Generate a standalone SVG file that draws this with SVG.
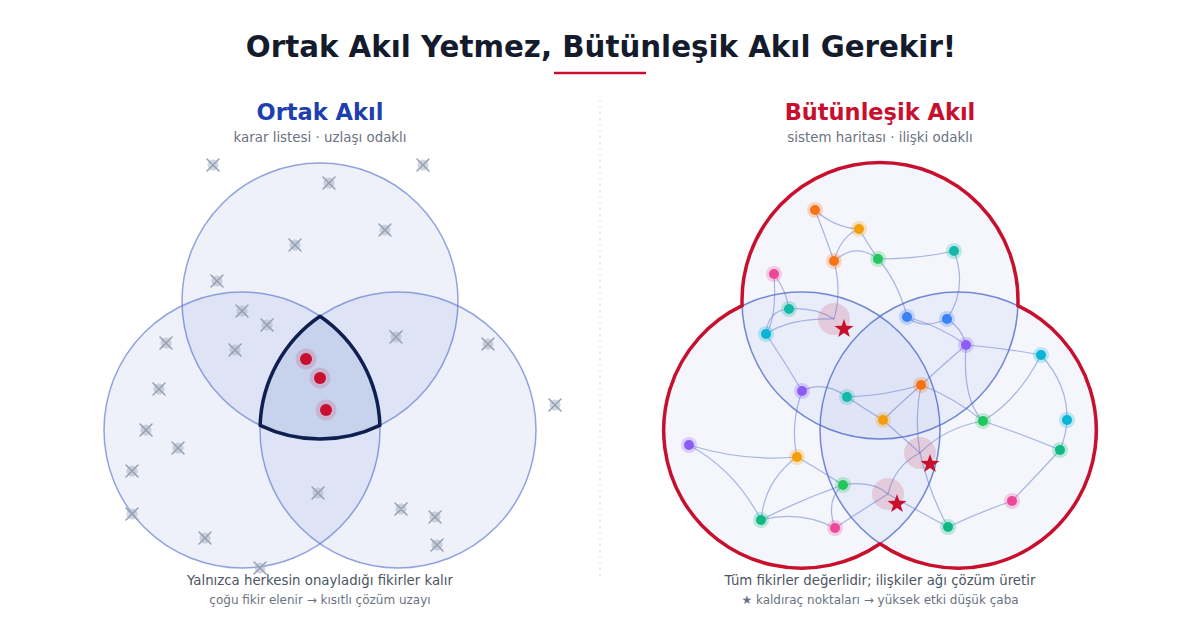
<svg xmlns="http://www.w3.org/2000/svg" width="1200" height="627" viewBox="0 0 1200 627">
<style>
.title{font-family:"DejaVu Sans",sans-serif;font-weight:bold;font-size:29.3px;fill:#141b2d;text-anchor:middle}
.h{font-family:"DejaVu Sans",sans-serif;font-weight:bold;font-size:22.5px;text-anchor:middle}
.sub{font-family:"DejaVu Sans",sans-serif;font-size:13.4px;fill:#6b7280;text-anchor:middle}
.cap1{font-family:"DejaVu Sans",sans-serif;font-size:13.3px;fill:#4b5563;text-anchor:middle}
.cap2{font-family:"DejaVu Sans",sans-serif;font-size:12px;fill:#6b7280;text-anchor:middle}
.vc{fill:#3c5ac8;fill-opacity:0.085;stroke:#5b74cc;stroke-opacity:0.65;stroke-width:1.5}
.vc2{fill:#3c5ac8;fill-opacity:0.055;stroke:#5b74cc;stroke-opacity:0.85;stroke-width:1.5}
.edge{fill:none;stroke:#5b74cc;stroke-opacity:0.5;stroke-width:1.2}
.halo{fill:#c8102e;fill-opacity:0.15}
</style>
<defs>
<g id="xmark">
<circle r="5.5" fill="#aab2c2" fill-opacity="0.55"/>
<path d="M-6,-6 L6,6 M6,-6 L-6,6" stroke="#97a0b3" stroke-width="1.5" stroke-linecap="round"/>
</g>
<path id="star" d="M0,-10 L2.35,-3.24 L9.51,-3.09 L3.8,1.24 L5.88,8.09 L0,4 L-5.88,8.09 L-3.8,1.24 L-9.51,-3.09 L-2.35,-3.24 Z" fill="#c8102e"/>
</defs>

<g id="header">
<text class="title" x="601" y="57">Ortak Akıl Yetmez, Bütünleşik Akıl Gerekir!</text>
<line x1="554" y1="73" x2="646" y2="73" stroke="#c8102e" stroke-width="2.5"/>
</g>
<line id="divider" x1="600" y1="100" x2="600" y2="576" stroke="#e3e6ec" stroke-width="1.5" stroke-dasharray="2 4"/>

<!-- LEFT -->
<g id="left-title">
<text class="h" x="320" y="120" fill="#1e3fae">Ortak Akıl</text>
<text class="sub" x="320" y="142">karar listesi · uzlaşı odaklı</text>
</g>
<g id="left-venn">
<circle class="vc" cx="320" cy="301" r="138"/>
<circle class="vc" cx="242" cy="430" r="138"/>
<circle class="vc" cx="398" cy="430" r="138"/>
</g>
<g id="left-consensus">
<path d="M320,316.2 A138,138 0 0 1 379.9,425.3 A138,138 0 0 1 260.1,425.3 A138,138 0 0 1 320,316.2 Z" fill="#3c5ac8" fill-opacity="0.05" stroke="#0f1f4f" stroke-width="3.5" stroke-linejoin="round"/>
</g>
<g id="left-crosses">
<use id="x1" href="#xmark" x="213" y="165"/>
<use id="x2" href="#xmark" x="423" y="165"/>
<use id="x3" href="#xmark" x="329" y="183"/>
<use id="x4" href="#xmark" x="385" y="230"/>
<use id="x5" href="#xmark" x="295" y="245"/>
<use id="x6" href="#xmark" x="217" y="281"/>
<use id="x7" href="#xmark" x="242" y="311"/>
<use id="x8" href="#xmark" x="267" y="325"/>
<use id="x9" href="#xmark" x="166" y="343"/>
<use id="x10" href="#xmark" x="235" y="350"/>
<use id="x11" href="#xmark" x="396" y="337"/>
<use id="x12" href="#xmark" x="488" y="344"/>
<use id="x13" href="#xmark" x="159" y="389"/>
<use id="x14" href="#xmark" x="555" y="405"/>
<use id="x15" href="#xmark" x="146" y="430"/>
<use id="x16" href="#xmark" x="178" y="448"/>
<use id="x17" href="#xmark" x="132" y="471"/>
<use id="x18" href="#xmark" x="318" y="493"/>
<use id="x19" href="#xmark" x="132" y="514"/>
<use id="x20" href="#xmark" x="401" y="509"/>
<use id="x21" href="#xmark" x="435" y="517"/>
<use id="x22" href="#xmark" x="205" y="538"/>
<use id="x23" href="#xmark" x="437" y="545"/>
<use id="x24" href="#xmark" x="260" y="568"/>
</g>
<g id="left-accepted">
<g id="a1"><circle cx="306" cy="359" r="10.5" class="halo" fill-opacity="0.2"/><circle cx="306" cy="359" r="6" fill="#c8102e"/></g>
<g id="a2"><circle cx="320" cy="378" r="10.5" class="halo" fill-opacity="0.2"/><circle cx="320" cy="378" r="6" fill="#c8102e"/></g>
<g id="a3"><circle cx="326" cy="410" r="10.5" class="halo" fill-opacity="0.2"/><circle cx="326" cy="410" r="6" fill="#c8102e"/></g>
</g>
<g id="left-caption">
<text class="cap1" x="320" y="585">Yalnızca herkesin onayladığı fikirler kalır</text>
<text class="cap2" x="320" y="604">çoğu fikir elenir → kısıtlı çözüm uzayı</text>
</g>

<!-- RIGHT -->
<g id="right-title">
<text class="h" x="880" y="120" fill="#c8102e">Bütünleşik Akıl</text>
<text class="sub" x="880" y="142">sistem haritası · ilişki odaklı</text>
</g>
<g id="right-venn">
<circle class="vc2" cx="880" cy="301" r="138"/>
<circle class="vc2" cx="802" cy="430" r="138"/>
<circle class="vc2" cx="958" cy="430" r="138"/>
</g>

<g id="leverage-halos">
<circle class="halo" cx="834" cy="319" r="16"/>
<circle class="halo" cx="920" cy="453" r="16"/>
<circle class="halo" cx="888" cy="494" r="16"/>
</g>

<g id="connectors">
<path class="edge" d="M815,210 Q835,228 859,229"/>
<path class="edge" d="M815,210 Q826,238 834,261"/>
<path class="edge" d="M859,229 Q841,236 834,261"/>
<path class="edge" d="M859,229 Q868,244 878,259"/>
<path class="edge" d="M834,261 Q856,242 878,259"/>
<path class="edge" d="M878,259 Q918,259 954,251"/>
<path class="edge" d="M954,251 Q968,288 947,319"/>
<path class="edge" d="M878,259 Q897,280 907,316"/>
<path class="edge" d="M834,261 Q842,292 834,319"/>
<path class="edge" d="M774,274 Q786,290 789,309"/>
<path class="edge" d="M774,274 Q777,318 766,334"/>
<path class="edge" d="M789,309 Q768,310 766,334"/>
<path class="edge" d="M789,309 Q815,307 834,319"/>
<path class="edge" d="M766,334 Q790,318 834,319"/>
<path class="edge" d="M907,317 Q922,330 947,319"/>
<path class="edge" d="M907,317 Q940,326 966,345"/>
<path class="edge" d="M947,319 Q962,328 966,345"/>
<path class="edge" d="M966,345 Q1004,348 1041,355"/>
<path class="edge" d="M966,345 Q944,364 921,385"/>
<path class="edge" d="M966,345 Q962,400 983,421"/>
<path class="edge" d="M1041,355 Q1018,400 983,421"/>
<path class="edge" d="M1041,355 Q1068,385 1067,420"/>
<path class="edge" d="M766,334 Q785,362 802,391"/>
<path class="edge" d="M802,391 Q824,380 847,397"/>
<path class="edge" d="M847,397 Q884,396 921,385"/>
<path class="edge" d="M847,397 Q865,409 883,420"/>
<path class="edge" d="M883,420 Q902,402 921,385"/>
<path class="edge" d="M921,385 Q955,398 983,421"/>
<path class="edge" d="M921,385 Q914,420 920,453"/>
<path class="edge" d="M883,420 Q902,437 920,453"/>
<path class="edge" d="M983,421 Q944,428 920,453"/>
<path class="edge" d="M983,421 Q1024,435 1060,450"/>
<path class="edge" d="M802,391 Q790,425 797,457"/>
<path class="edge" d="M689,445 Q745,462 797,457"/>
<path class="edge" d="M689,445 Q735,470 761,520"/>
<path class="edge" d="M797,457 Q765,480 761,520"/>
<path class="edge" d="M797,457 Q820,470 843,485"/>
<path class="edge" d="M843,485 Q800,500 761,520"/>
<path class="edge" d="M843,485 Q825,500 835,528"/>
<path class="edge" d="M761,520 Q800,510 835,528"/>
<path class="edge" d="M843,485 Q872,480 888,494"/>
<path class="edge" d="M835,528 Q862,510 888,494"/>
<path class="edge" d="M888,494 Q895,465 920,453"/>
<path class="edge" d="M888,494 Q920,512 948,527"/>
<path class="edge" d="M920,453 Q930,495 948,527"/>
<path class="edge" d="M948,527 Q980,512 1012,501"/>
<path class="edge" d="M1012,501 Q1036,476 1060,450"/>
<path class="edge" d="M1060,450 Q1066,436 1067,420"/>
</g>

<g id="right-outline">
<path d="M742.1,305.7 A138,138 0 1 1 1017.9,305.7 A138,138 0 1 1 880,543.8 A138,138 0 1 1 742.1,305.7 Z" fill="none" stroke="#c8102e" stroke-width="3.5" stroke-linejoin="miter"/>
</g>

<g id="nodes">
<g id="n1"><circle cx="815" cy="210" r="8" fill="#f97316" fill-opacity="0.25"/><circle cx="815" cy="210" r="5" fill="#f97316"/></g>
<g id="n2"><circle cx="859" cy="229" r="8" fill="#f59e0b" fill-opacity="0.25"/><circle cx="859" cy="229" r="5" fill="#f59e0b"/></g>
<g id="n3"><circle cx="834" cy="261" r="8" fill="#f97316" fill-opacity="0.25"/><circle cx="834" cy="261" r="5" fill="#f97316"/></g>
<g id="n4"><circle cx="878" cy="259" r="8" fill="#22c55e" fill-opacity="0.25"/><circle cx="878" cy="259" r="5" fill="#22c55e"/></g>
<g id="n5"><circle cx="954" cy="251" r="8" fill="#14b8a6" fill-opacity="0.25"/><circle cx="954" cy="251" r="5" fill="#14b8a6"/></g>
<g id="n6"><circle cx="774" cy="274" r="8" fill="#ec4899" fill-opacity="0.25"/><circle cx="774" cy="274" r="5" fill="#ec4899"/></g>
<g id="n7"><circle cx="789" cy="309" r="8" fill="#14b8a6" fill-opacity="0.25"/><circle cx="789" cy="309" r="5" fill="#14b8a6"/></g>
<g id="n8"><circle cx="766" cy="334" r="8" fill="#06b6d4" fill-opacity="0.25"/><circle cx="766" cy="334" r="5" fill="#06b6d4"/></g>
<g id="n9"><circle cx="907" cy="317" r="8" fill="#3b82f6" fill-opacity="0.25"/><circle cx="907" cy="317" r="5" fill="#3b82f6"/></g>
<g id="n10"><circle cx="947" cy="319" r="8" fill="#3b82f6" fill-opacity="0.25"/><circle cx="947" cy="319" r="5" fill="#3b82f6"/></g>
<g id="n11"><circle cx="966" cy="345" r="8" fill="#8b5cf6" fill-opacity="0.25"/><circle cx="966" cy="345" r="5" fill="#8b5cf6"/></g>
<g id="n12"><circle cx="1041" cy="355" r="8" fill="#06b6d4" fill-opacity="0.25"/><circle cx="1041" cy="355" r="5" fill="#06b6d4"/></g>
<g id="n13"><circle cx="802" cy="391" r="8" fill="#8b5cf6" fill-opacity="0.25"/><circle cx="802" cy="391" r="5" fill="#8b5cf6"/></g>
<g id="n14"><circle cx="847" cy="397" r="8" fill="#14b8a6" fill-opacity="0.25"/><circle cx="847" cy="397" r="5" fill="#14b8a6"/></g>
<g id="n15"><circle cx="921" cy="385" r="8" fill="#f97316" fill-opacity="0.25"/><circle cx="921" cy="385" r="5" fill="#f97316"/></g>
<g id="n16"><circle cx="883" cy="420" r="8" fill="#f59e0b" fill-opacity="0.25"/><circle cx="883" cy="420" r="5" fill="#f59e0b"/></g>
<g id="n17"><circle cx="983" cy="421" r="8" fill="#22c55e" fill-opacity="0.25"/><circle cx="983" cy="421" r="5" fill="#22c55e"/></g>
<g id="n18"><circle cx="1067" cy="420" r="8" fill="#06b6d4" fill-opacity="0.25"/><circle cx="1067" cy="420" r="5" fill="#06b6d4"/></g>
<g id="n19"><circle cx="689" cy="445" r="8" fill="#8b5cf6" fill-opacity="0.25"/><circle cx="689" cy="445" r="5" fill="#8b5cf6"/></g>
<g id="n20"><circle cx="1060" cy="450" r="8" fill="#10b981" fill-opacity="0.25"/><circle cx="1060" cy="450" r="5" fill="#10b981"/></g>
<g id="n21"><circle cx="797" cy="457" r="8" fill="#f59e0b" fill-opacity="0.25"/><circle cx="797" cy="457" r="5" fill="#f59e0b"/></g>
<g id="n22"><circle cx="843" cy="485" r="8" fill="#22c55e" fill-opacity="0.25"/><circle cx="843" cy="485" r="5" fill="#22c55e"/></g>
<g id="n23"><circle cx="1012" cy="501" r="8" fill="#ec4899" fill-opacity="0.25"/><circle cx="1012" cy="501" r="5" fill="#ec4899"/></g>
<g id="n24"><circle cx="761" cy="520" r="8" fill="#10b981" fill-opacity="0.25"/><circle cx="761" cy="520" r="5" fill="#10b981"/></g>
<g id="n25"><circle cx="835" cy="528" r="8" fill="#ec4899" fill-opacity="0.25"/><circle cx="835" cy="528" r="5" fill="#ec4899"/></g>
<g id="n26"><circle cx="948" cy="527" r="8" fill="#10b981" fill-opacity="0.25"/><circle cx="948" cy="527" r="5" fill="#10b981"/></g>
</g>

<g id="leverage-stars">
<use id="s1" href="#star" x="844" y="329"/>
<use id="s2" href="#star" x="930" y="464"/>
<use id="s3" href="#star" x="897" y="504"/>
</g>

<g id="right-caption">
<text class="cap1" x="880" y="585">Tüm fikirler değerlidir; ilişkiler ağı çözüm üretir</text>
<text class="cap2" x="880" y="604">★ kaldıraç noktaları → yüksek etki düşük çaba</text>
</g>
</svg>
